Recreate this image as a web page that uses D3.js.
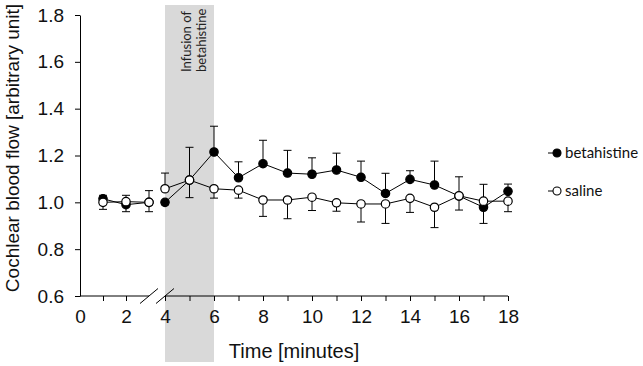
<!DOCTYPE html>
<html>
<head>
<meta charset="UTF-8">
<script src="https://d3js.org/d3.v7.min.js"></script>
<style>
  body { margin: 0; background: #fff; }
  svg { display: block; }
  .tick text { font-family: "Liberation Sans", Arial, sans-serif; }
</style>
</head>
<body>
<svg width="643" height="366"></svg>
<script>
// minutes
const time = [1, 2, 3, 4, 5, 6, 7, 8, 9, 10, 11, 12, 13, 14, 15, 16, 17, 18];
// mean values
const betahistine = [1.015, 0.99, 1.0, 1.0, 1.095, 1.215, 1.105, 1.165, 1.125, 1.12, 1.138, 1.107, 1.038, 1.098, 1.074, 1.027, 0.979, 1.047];
const saline      = [1.0, 1.003, 1.0, 1.058, 1.095, 1.058, 1.052, 1.01, 1.01, 1.022, 0.998, 0.993, 0.993, 1.017, 0.979, 1.028, 1.005, 1.005];
// one-sided error bars (+ up, - down)
const betaErr   = [0.015, -0.03, 0.05, -0.01, 0.14, 0.11, 0.068, 0.10, 0.097, 0.07, 0.072, 0.069, 0.086, 0.037, 0.102, 0.082, -0.069, 0.031];
const salineErr = [-0.03, 0.027, -0.04, 0.067, -0.075, -0.04, -0.034, -0.07, -0.08, -0.057, -0.036, -0.077, -0.083, -0.06, -0.087, -0.061, 0.072, -0.045];

const yTicks = [0.6, 0.8, 1.0, 1.2, 1.4, 1.6, 1.8];
const xTicks = [0, 2, 4, 6, 8, 10, 12, 14, 16, 18];
const xMinor = [1, 2, 4, 5, 6, 7, 8, 9, 10, 11, 12, 13, 14, 15, 16, 17, 18];
const infusion = [4, 6];

const svg = d3.select("svg");

// broken axis: 0-3 then 4-18
const x = d3.scaleLinear().domain([0, 3, 4, 18]).range([80, 149, 165, 508]);
const y = d3.scaleLinear().domain([0.6, 1.8]).range([296, 15]);

// infusion band
svg.append("rect")
    .attr("x", x(infusion[0]))
    .attr("width", x(infusion[1]) - x(infusion[0]))
    .attr("y", 5)
    .attr("height", 357)
    .attr("fill", "#d9d9d9");

svg.append("text")
    .attr("transform", `translate(${x(infusion[0]) + 26},72) rotate(-90)`)
    .attr("font-family", "Lato, 'Open Sans', sans-serif")
    .attr("font-size", 13)
    .attr("fill", "#222")
    .selectAll("tspan")
    .data(["Infusion of", "betahistine"])
    .join("tspan")
    .attr("x", 0)
    .attr("dy", (d, i) => i ? 15 : 0)
    .text(d => d);

// y axis
svg.append("g")
    .attr("transform", `translate(${x(0)},0)`)
    .call(d3.axisLeft(y).tickValues(yTicks).tickFormat(d3.format(".1f")).tickSize(5).tickSizeOuter(0).tickPadding(11))
    .call(g => g.selectAll("text").attr("font-size", 19).attr("fill", "#111"));

// x axis: labels, minor ticks, broken line
const y0 = y(0.6);
svg.append("g")
    .attr("transform", `translate(0,${y0})`)
    .call(d3.axisBottom(x).tickValues(xTicks).tickSize(0).tickPadding(14))
    .call(g => g.select(".domain").remove())
    .call(g => g.selectAll("text").attr("font-size", 19).attr("fill", "#111"));

svg.append("g")
    .attr("transform", `translate(0,${y0})`)
    .call(d3.axisBottom(x).tickValues(xMinor).tickSize(5).tickFormat(""))
    .call(g => g.select(".domain").remove());

const axisLine = svg.append("g").attr("stroke", "#000").attr("stroke-width", 1);
axisLine.append("line").attr("x1", x(0)).attr("x2", x(3)).attr("y1", y0).attr("y2", y0);
axisLine.append("line").attr("x1", x(4)).attr("x2", x(18)).attr("y1", y0).attr("y2", y0);
[3, 4].forEach(t => {
  axisLine.append("line")
      .attr("x1", x(t) - 9).attr("y1", y0 + 7.5)
      .attr("x2", x(t) + 9).attr("y2", y0 - 7.5);
});

// axis titles
svg.append("text")
    .attr("transform", "translate(19,148) rotate(-90)")
    .attr("text-anchor", "middle")
    .attr("font-family", "'Liberation Sans', Arial, sans-serif")
    .attr("font-size", 19)
    .attr("fill", "#111")
    .text("Cochlear blood flow [arbitrary unit]");

svg.append("text")
    .attr("x", 294)
    .attr("y", 358)
    .attr("text-anchor", "middle")
    .attr("font-family", "'Liberation Sans', Arial, sans-serif")
    .attr("font-size", 20)
    .attr("fill", "#111")
    .text("Time [minutes]");

// series
const series = [
  { name: "betahistine", values: betahistine, err: betaErr, fill: "#000" },
  { name: "saline", values: saline, err: salineErr, fill: "#fff" }
];

const line = d3.line().x(d => x(d.t)).y(d => y(d.v));

series.forEach(s => {
  const pts = time.map((t, i) => ({ t, v: s.values[i], e: s.err[i] }));
  const g = svg.append("g");

  // error bars
  const eb = g.append("g").attr("stroke", "#000").attr("stroke-width", 1);
  pts.forEach(p => {
    const ye = y(p.v + p.e);
    eb.append("line").attr("x1", x(p.t)).attr("x2", x(p.t)).attr("y1", y(p.v)).attr("y2", ye);
    eb.append("line").attr("x1", x(p.t) - 4).attr("x2", x(p.t) + 4).attr("y1", ye).attr("y2", ye);
  });

  // lines, gap across the axis break
  [pts.filter(p => p.t <= 3), pts.filter(p => p.t >= 4)].forEach(seg => {
    g.append("path").attr("d", line(seg)).attr("fill", "none").attr("stroke", "#000").attr("stroke-width", 1);
  });

  g.selectAll("circle").data(pts).join("circle")
      .attr("cx", d => x(d.t)).attr("cy", d => y(d.v)).attr("r", 4.2)
      .attr("fill", s.fill).attr("stroke", "#000").attr("stroke-width", 1.2);
});

// legend
const legend = svg.append("g").attr("font-family", "Lato, 'Open Sans', sans-serif").attr("font-size", 15);
series.forEach((s, i) => {
  const ly = 153 + i * 38;
  legend.append("line").attr("x1", 548).attr("x2", 555).attr("y1", ly).attr("y2", ly).attr("stroke", "#000");
  legend.append("circle").attr("cx", 557).attr("cy", ly).attr("r", 4).attr("fill", s.fill).attr("stroke", "#000").attr("stroke-width", 1.1);
  legend.append("text").attr("x", 565).attr("y", ly + 5).attr("fill", "#111").text(s.name);
});
</script>
</body>
</html>
